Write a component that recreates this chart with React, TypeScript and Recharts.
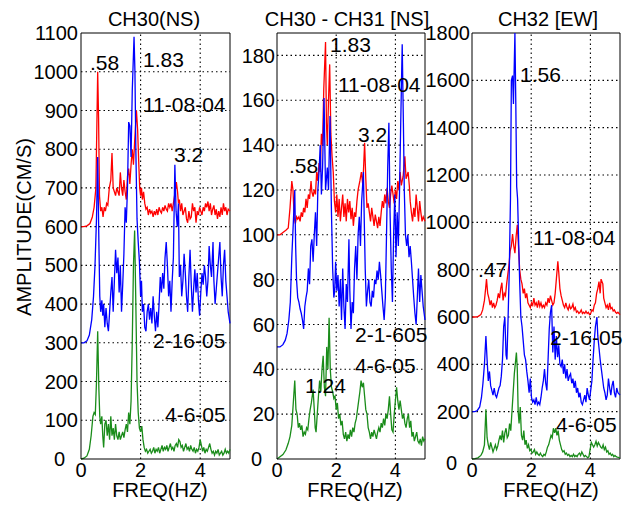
import { LineChart, Line, XAxis, YAxis, ReferenceLine } from 'recharts'

type Pt = [number, number]

// frequency (Hz), amplitude
const ch30Nov04: Pt[] = [
  [0, 600], [0.1, 600], [0.2, 602], [0.3, 608], [0.38, 625], [0.44, 650], [0.5, 700], [0.56, 1000], [0.59, 880],
  [0.62, 680], [0.66, 640], [0.7, 650], [0.74, 625], [0.78, 650], [0.82, 640], [0.86, 660], [0.9, 655], [0.95, 700],
  [1.0, 720], [1.04, 790], [1.08, 700], [1.12, 690], [1.16, 680], [1.2, 700], [1.24, 690], [1.28, 680], [1.32, 740],
  [1.36, 700], [1.4, 680], [1.44, 720], [1.48, 690], [1.52, 670], [1.56, 730], [1.6, 750], [1.64, 710], [1.68, 760],
  [1.72, 800], [1.76, 760], [1.8, 820], [1.86, 900], [1.9, 850], [1.94, 760], [1.97, 700], [2.0, 680], [2.03, 700],
  [2.06, 670], [2.1, 690], [2.14, 660], [2.18, 645], [2.22, 650], [2.26, 630], [2.3, 645], [2.34, 635], [2.38, 640],
  [2.42, 625], [2.46, 640], [2.5, 630], [2.54, 645], [2.58, 630], [2.62, 650], [2.66, 640], [2.7, 635], [2.74, 650],
  [2.78, 640], [2.82, 655], [2.86, 645], [2.9, 640], [2.94, 660], [2.98, 650], [3.02, 660], [3.06, 640], [3.1, 660],
  [3.14, 680], [3.2, 715], [3.24, 690], [3.27, 660], [3.3, 670], [3.34, 640], [3.38, 660], [3.42, 630], [3.46, 640],
  [3.5, 650], [3.54, 620], [3.58, 610], [3.62, 640], [3.66, 620], [3.7, 625], [3.74, 660], [3.78, 640], [3.82, 650],
  [3.86, 610], [3.9, 640], [3.94, 630], [3.98, 650], [4.02, 640], [4.06, 630], [4.1, 650], [4.14, 640], [4.18, 660],
  [4.22, 650], [4.26, 665], [4.3, 640], [4.34, 660], [4.38, 630], [4.42, 645], [4.46, 655], [4.5, 630], [4.54, 645],
  [4.58, 620], [4.62, 640], [4.66, 625], [4.7, 650], [4.74, 630], [4.78, 660], [4.82, 640], [4.86, 650], [4.9, 630],
  [4.94, 645], [5.0, 640],
]

const ch30Feb05: Pt[] = [
  [0, 300], [0.1, 300], [0.2, 305], [0.28, 320], [0.36, 360], [0.42, 420], [0.47, 500], [0.52, 620], [0.56, 780],
  [0.6, 560], [0.63, 420], [0.66, 380], [0.7, 410], [0.73, 370], [0.76, 400], [0.8, 340], [0.84, 390], [0.88, 350],
  [0.92, 330], [0.96, 380], [1.0, 430], [1.04, 470], [1.08, 380], [1.12, 460], [1.16, 540], [1.2, 480], [1.24, 520],
  [1.28, 430], [1.32, 500], [1.36, 380], [1.4, 450], [1.44, 530], [1.48, 650], [1.52, 610], [1.56, 700], [1.6, 870],
  [1.64, 860], [1.68, 780], [1.72, 950], [1.78, 1090], [1.81, 1000], [1.84, 800], [1.88, 620], [1.92, 560],
  [1.96, 510], [2.0, 420], [2.03, 460], [2.06, 380], [2.1, 400], [2.14, 340], [2.18, 330], [2.22, 380], [2.26, 400],
  [2.3, 360], [2.34, 390], [2.38, 350], [2.42, 420], [2.46, 370], [2.5, 330], [2.54, 380], [2.58, 340], [2.62, 400],
  [2.66, 470], [2.7, 430], [2.74, 480], [2.78, 440], [2.82, 520], [2.86, 560], [2.9, 500], [2.94, 420], [2.98, 460],
  [3.02, 380], [3.06, 460], [3.1, 520], [3.15, 760], [3.19, 640], [3.23, 600], [3.27, 660], [3.3, 470], [3.34, 500],
  [3.38, 420], [3.42, 460], [3.46, 530], [3.5, 480], [3.54, 420], [3.58, 380], [3.62, 470], [3.66, 540], [3.7, 450],
  [3.74, 380], [3.78, 440], [3.82, 490], [3.86, 430], [3.9, 480], [3.94, 410], [3.98, 370], [4.02, 430], [4.06, 480],
  [4.1, 450], [4.14, 500], [4.18, 470], [4.22, 420], [4.26, 460], [4.3, 550], [4.34, 500], [4.38, 470], [4.43, 560],
  [4.46, 460], [4.5, 400], [4.54, 440], [4.58, 480], [4.62, 520], [4.66, 560], [4.7, 470], [4.74, 420], [4.78, 500],
  [4.82, 540], [4.86, 460], [4.9, 420], [4.94, 380], [5.0, 350],
]

const ch30Apr05: Pt[] = [
  [0, 0], [0.1, 2], [0.2, 8], [0.28, 25], [0.34, 60], [0.4, 110], [0.44, 120], [0.48, 115], [0.52, 200], [0.56, 330],
  [0.6, 180], [0.63, 110], [0.66, 90], [0.7, 110], [0.73, 60], [0.76, 30], [0.8, 90], [0.84, 100], [0.88, 60],
  [0.92, 90], [0.96, 50], [1.0, 110], [1.04, 60], [1.08, 80], [1.12, 50], [1.16, 90], [1.2, 60], [1.24, 50],
  [1.28, 70], [1.32, 50], [1.36, 60], [1.4, 70], [1.44, 55], [1.48, 75], [1.52, 90], [1.56, 70], [1.6, 120],
  [1.64, 90], [1.68, 150], [1.72, 300], [1.76, 500], [1.8, 590], [1.84, 400], [1.88, 200], [1.92, 120], [1.96, 80],
  [2.0, 70], [2.04, 85], [2.08, 50], [2.12, 30], [2.16, 20], [2.2, 25], [2.24, 15], [2.28, 20], [2.32, 25],
  [2.36, 15], [2.4, 20], [2.44, 30], [2.48, 15], [2.52, 25], [2.56, 20], [2.6, 30], [2.64, 15], [2.68, 25],
  [2.72, 35], [2.76, 20], [2.8, 30], [2.84, 25], [2.88, 35], [2.92, 20], [2.96, 30], [3.0, 40], [3.04, 25],
  [3.08, 30], [3.12, 20], [3.16, 35], [3.2, 40], [3.24, 30], [3.28, 50], [3.32, 45], [3.36, 30], [3.4, 35],
  [3.44, 20], [3.48, 30], [3.52, 40], [3.56, 25], [3.6, 30], [3.64, 20], [3.68, 35], [3.72, 25], [3.76, 20],
  [3.8, 30], [3.84, 15], [3.88, 25], [3.92, 20], [3.96, 30], [4.0, 50], [4.04, 35], [4.08, 20], [4.12, 30],
  [4.16, 15], [4.2, 25], [4.24, 20], [4.28, 30], [4.32, 40], [4.36, 25], [4.4, 15], [4.44, 20], [4.48, 10],
  [4.52, 20], [4.56, 15], [4.6, 25], [4.64, 10], [4.68, 15], [4.72, 20], [4.76, 10], [4.8, 15], [4.84, 25],
  [4.88, 15], [4.92, 20], [4.96, 15], [5.0, 25],
]

const diffNov04: Pt[] = [
  [0, 100], [0.1, 100], [0.2, 101], [0.3, 102], [0.38, 103], [0.44, 112], [0.5, 124], [0.54, 120], [0.58, 108],
  [0.62, 105], [0.66, 108], [0.7, 107], [0.74, 108], [0.78, 106], [0.82, 110], [0.86, 108], [0.9, 112], [0.94, 110],
  [0.98, 116], [1.02, 112], [1.06, 118], [1.1, 116], [1.15, 124], [1.18, 119], [1.22, 117], [1.26, 120], [1.3, 118],
  [1.34, 128], [1.38, 124], [1.42, 132], [1.46, 128], [1.5, 145], [1.54, 140], [1.58, 165], [1.64, 186], [1.67, 150],
  [1.7, 140], [1.74, 160], [1.78, 176], [1.82, 145], [1.86, 135], [1.9, 128], [1.94, 115], [1.98, 110], [2.02, 118],
  [2.06, 108], [2.1, 116], [2.14, 106], [2.18, 112], [2.22, 118], [2.26, 108], [2.3, 114], [2.34, 106], [2.38, 116],
  [2.42, 110], [2.46, 115], [2.5, 107], [2.54, 112], [2.58, 104], [2.62, 110], [2.66, 108], [2.7, 115], [2.74, 120],
  [2.8, 124], [2.85, 128], [2.9, 122], [2.96, 141], [3.0, 125], [3.04, 112], [3.08, 114], [3.12, 110], [3.16, 106],
  [3.2, 112], [3.24, 108], [3.28, 104], [3.32, 109], [3.36, 106], [3.4, 103], [3.44, 108], [3.48, 104], [3.52, 110],
  [3.56, 115], [3.6, 112], [3.64, 118], [3.68, 114], [3.72, 121], [3.76, 115], [3.8, 112], [3.84, 118], [3.88, 122],
  [3.92, 118], [3.96, 114], [4.0, 120], [4.04, 116], [4.08, 124], [4.12, 120], [4.16, 128], [4.2, 122], [4.26, 126],
  [4.32, 135], [4.36, 125], [4.43, 128], [4.47, 122], [4.5, 115], [4.54, 110], [4.58, 106], [4.62, 112], [4.66, 108],
  [4.7, 118], [4.74, 112], [4.78, 106], [4.82, 115], [4.86, 110], [4.9, 106], [4.94, 108], [5.0, 106],
]

const diffFeb05: Pt[] = [
  [0, 50], [0.1, 50], [0.2, 51], [0.28, 53], [0.34, 56], [0.4, 62], [0.45, 70], [0.5, 90], [0.55, 105], [0.6, 120],
  [0.63, 95], [0.66, 80], [0.7, 72], [0.74, 70], [0.78, 67], [0.82, 65], [0.86, 62], [0.9, 58], [0.94, 68],
  [0.98, 72], [1.02, 75], [1.06, 85], [1.1, 78], [1.14, 95], [1.18, 98], [1.22, 88], [1.26, 100], [1.3, 110],
  [1.34, 95], [1.38, 120], [1.42, 128], [1.46, 140], [1.5, 118], [1.54, 130], [1.59, 161], [1.64, 120], [1.7, 130],
  [1.74, 120], [1.79, 153], [1.84, 110], [1.88, 85], [1.92, 72], [1.95, 75], [1.98, 88], [2.02, 75], [2.06, 82],
  [2.1, 68], [2.14, 80], [2.18, 62], [2.22, 85], [2.26, 68], [2.3, 58], [2.34, 78], [2.38, 70], [2.43, 98],
  [2.46, 75], [2.5, 58], [2.54, 70], [2.58, 65], [2.62, 85], [2.66, 95], [2.7, 80], [2.74, 100], [2.78, 108],
  [2.82, 95], [2.86, 115], [2.92, 128], [2.95, 105], [2.98, 85], [3.02, 68], [3.06, 75], [3.1, 80], [3.14, 70],
  [3.18, 68], [3.22, 75], [3.26, 72], [3.3, 80], [3.34, 78], [3.38, 84], [3.42, 80], [3.46, 88], [3.5, 82],
  [3.54, 75], [3.58, 68], [3.62, 62], [3.66, 72], [3.7, 100], [3.74, 130], [3.78, 150], [3.82, 110], [3.86, 85],
  [3.9, 70], [3.94, 100], [3.98, 118], [4.02, 90], [4.06, 110], [4.1, 95], [4.14, 120], [4.18, 150], [4.23, 185],
  [4.27, 150], [4.3, 120], [4.34, 100], [4.38, 95], [4.42, 100], [4.46, 90], [4.5, 95], [4.54, 88], [4.58, 80],
  [4.62, 72], [4.66, 65], [4.7, 60], [4.74, 72], [4.78, 85], [4.82, 70], [4.86, 82], [4.9, 75], [4.94, 68],
  [5.0, 62],
]

const diffApr05: Pt[] = [
  [0, 0], [0.1, 1], [0.2, 2], [0.3, 4], [0.38, 7], [0.44, 10], [0.5, 15], [0.55, 25], [0.6, 35], [0.64, 22],
  [0.68, 20], [0.72, 14], [0.76, 16], [0.8, 13], [0.84, 15], [0.88, 10], [0.92, 12], [0.96, 11], [1.0, 14],
  [1.04, 13], [1.08, 18], [1.12, 22], [1.16, 25], [1.22, 31], [1.26, 22], [1.29, 14], [1.32, 12], [1.36, 20],
  [1.4, 28], [1.44, 35], [1.48, 30], [1.52, 40], [1.56, 46], [1.6, 32], [1.64, 28], [1.68, 50], [1.72, 40],
  [1.76, 63], [1.8, 40], [1.84, 32], [1.88, 30], [1.92, 27], [1.96, 28], [2.0, 22], [2.04, 25], [2.08, 18],
  [2.12, 20], [2.16, 15], [2.2, 17], [2.24, 11], [2.28, 9], [2.32, 12], [2.36, 8], [2.4, 11], [2.44, 9],
  [2.48, 13], [2.52, 10], [2.56, 14], [2.6, 12], [2.64, 16], [2.68, 18], [2.72, 22], [2.76, 26], [2.8, 30],
  [2.84, 35], [2.88, 32], [2.92, 34], [2.96, 28], [3.0, 22], [3.04, 20], [3.08, 14], [3.12, 12], [3.16, 9],
  [3.2, 12], [3.24, 10], [3.28, 13], [3.32, 11], [3.36, 9], [3.4, 12], [3.44, 14], [3.48, 12], [3.52, 16],
  [3.56, 14], [3.6, 18], [3.64, 15], [3.68, 20], [3.72, 18], [3.76, 22], [3.8, 28], [3.84, 20], [3.88, 13],
  [3.92, 12], [3.96, 20], [4.0, 26], [4.04, 32], [4.08, 26], [4.12, 22], [4.16, 26], [4.2, 22], [4.24, 18],
  [4.28, 20], [4.32, 16], [4.36, 14], [4.4, 18], [4.44, 20], [4.48, 14], [4.52, 17], [4.56, 10], [4.6, 12],
  [4.64, 8], [4.68, 10], [4.72, 12], [4.76, 8], [4.8, 7], [4.84, 9], [4.88, 6], [4.92, 10], [4.96, 8], [5.0, 9],
]

const ch32Nov04: Pt[] = [
  [0, 600], [0.1, 600], [0.2, 602], [0.3, 610], [0.36, 630], [0.42, 670], [0.46, 720], [0.49, 760], [0.53, 700],
  [0.57, 680], [0.61, 650], [0.65, 670], [0.69, 640], [0.73, 660], [0.77, 640], [0.81, 650], [0.85, 670],
  [0.89, 700], [0.93, 680], [0.97, 720], [1.01, 745], [1.05, 670], [1.09, 700], [1.13, 690], [1.17, 740],
  [1.21, 780], [1.25, 820], [1.29, 880], [1.33, 900], [1.37, 950], [1.41, 900], [1.45, 870], [1.49, 940],
  [1.53, 990], [1.57, 900], [1.61, 800], [1.65, 760], [1.69, 740], [1.73, 700], [1.77, 720], [1.81, 680],
  [1.85, 700], [1.89, 660], [1.93, 650], [1.97, 640], [2.01, 660], [2.05, 650], [2.09, 680], [2.13, 650],
  [2.17, 660], [2.21, 640], [2.25, 670], [2.29, 645], [2.33, 660], [2.37, 640], [2.41, 650], [2.45, 640],
  [2.49, 660], [2.53, 650], [2.57, 680], [2.61, 660], [2.65, 690], [2.69, 670], [2.73, 650], [2.77, 660],
  [2.81, 700], [2.85, 760], [2.9, 835], [2.93, 790], [2.97, 720], [3.01, 690], [3.05, 670], [3.09, 650],
  [3.13, 640], [3.17, 660], [3.21, 640], [3.25, 630], [3.29, 650], [3.33, 635], [3.37, 640], [3.41, 655],
  [3.45, 630], [3.49, 640], [3.53, 620], [3.57, 625], [3.61, 615], [3.65, 620], [3.69, 630], [3.73, 615],
  [3.77, 620], [3.81, 615], [3.85, 625], [3.89, 615], [3.93, 620], [3.97, 610], [4.01, 615], [4.05, 630],
  [4.09, 625], [4.13, 650], [4.17, 660], [4.21, 700], [4.25, 720], [4.29, 750], [4.33, 700], [4.36, 760],
  [4.42, 740], [4.45, 680], [4.49, 660], [4.53, 640], [4.57, 650], [4.61, 630], [4.65, 660], [4.69, 635],
  [4.73, 640], [4.77, 625], [4.81, 630], [4.85, 620], [4.89, 615], [4.93, 620], [5.0, 610],
]

const ch32Feb05: Pt[] = [
  [0, 200], [0.1, 200], [0.18, 205], [0.26, 220], [0.32, 260], [0.37, 320], [0.42, 400], [0.47, 520], [0.51, 420],
  [0.55, 330], [0.59, 370], [0.63, 310], [0.67, 290], [0.71, 270], [0.75, 300], [0.79, 270], [0.83, 260],
  [0.87, 280], [0.91, 300], [0.95, 310], [0.99, 350], [1.03, 420], [1.07, 560], [1.11, 600], [1.15, 440],
  [1.18, 420], [1.22, 600], [1.26, 800], [1.3, 1100], [1.33, 1600], [1.37, 1620], [1.4, 1500], [1.45, 1800],
  [1.48, 1500], [1.51, 1150], [1.54, 1100], [1.57, 950], [1.61, 750], [1.65, 600], [1.69, 560], [1.73, 500],
  [1.77, 440], [1.81, 420], [1.85, 370], [1.89, 330], [1.93, 280], [1.97, 340], [2.01, 260], [2.05, 240],
  [2.09, 250], [2.13, 230], [2.17, 260], [2.21, 230], [2.25, 240], [2.29, 230], [2.33, 260], [2.37, 300],
  [2.41, 330], [2.45, 380], [2.49, 320], [2.53, 290], [2.57, 420], [2.61, 550], [2.65, 620], [2.69, 650],
  [2.73, 450], [2.77, 560], [2.81, 420], [2.85, 520], [2.89, 430], [2.93, 480], [2.97, 400], [3.01, 390],
  [3.05, 420], [3.09, 360], [3.13, 400], [3.17, 340], [3.21, 380], [3.25, 330], [3.29, 350], [3.33, 360],
  [3.37, 320], [3.41, 340], [3.45, 300], [3.49, 330], [3.53, 280], [3.57, 300], [3.61, 260], [3.65, 280],
  [3.69, 240], [3.73, 230], [3.77, 250], [3.81, 270], [3.85, 240], [3.89, 300], [3.93, 270], [3.97, 250],
  [4.01, 290], [4.05, 330], [4.09, 420], [4.13, 500], [4.17, 560], [4.22, 600], [4.25, 520], [4.29, 470],
  [4.33, 420], [4.37, 380], [4.41, 340], [4.45, 300], [4.49, 280], [4.53, 250], [4.57, 270], [4.61, 340],
  [4.65, 300], [4.69, 270], [4.73, 310], [4.77, 330], [4.81, 280], [4.85, 260], [4.89, 300], [4.93, 280],
  [5.0, 270],
]

const ch32Apr05: Pt[] = [
  [0, 0], [0.1, 2], [0.2, 5], [0.3, 15], [0.36, 30], [0.42, 60], [0.47, 210], [0.51, 90], [0.55, 60], [0.59, 40],
  [0.63, 70], [0.67, 50], [0.71, 30], [0.75, 45], [0.79, 60], [0.83, 40], [0.87, 55], [0.91, 80], [0.95, 100],
  [0.99, 80], [1.03, 120], [1.07, 70], [1.11, 110], [1.15, 130], [1.19, 90], [1.23, 100], [1.27, 150],
  [1.31, 120], [1.35, 200], [1.39, 280], [1.43, 360], [1.5, 450], [1.53, 380], [1.56, 200], [1.59, 150],
  [1.63, 220], [1.67, 100], [1.71, 80], [1.75, 120], [1.79, 60], [1.83, 80], [1.87, 45], [1.91, 60], [1.95, 35],
  [1.99, 40], [2.03, 25], [2.07, 30], [2.11, 40], [2.15, 20], [2.19, 30], [2.23, 20], [2.27, 15], [2.31, 25],
  [2.35, 15], [2.39, 10], [2.43, 20], [2.47, 15], [2.51, 30], [2.55, 50], [2.59, 60], [2.63, 80], [2.67, 100],
  [2.71, 90], [2.75, 130], [2.79, 110], [2.83, 130], [2.87, 100], [2.91, 120], [2.95, 80], [2.99, 60], [3.03, 40],
  [3.07, 30], [3.11, 35], [3.15, 20], [3.19, 25], [3.23, 15], [3.27, 20], [3.31, 10], [3.35, 15], [3.39, 10],
  [3.43, 20], [3.47, 10], [3.51, 15], [3.55, 10], [3.59, 20], [3.63, 25], [3.67, 15], [3.71, 30], [3.75, 20],
  [3.79, 10], [3.83, 15], [3.87, 10], [3.91, 5], [3.95, 10], [3.99, 40], [4.03, 70], [4.07, 60], [4.11, 50],
  [4.15, 60], [4.19, 75], [4.23, 55], [4.27, 70], [4.31, 60], [4.35, 50], [4.39, 45], [4.43, 60], [4.47, 40],
  [4.51, 50], [4.55, 30], [4.59, 35], [4.63, 20], [4.67, 25], [4.71, 15], [4.75, 20], [4.79, 10], [4.83, 15],
  [4.87, 10], [4.91, 8], [5.0, 5],
]

const freqTicks = [0, 2, 4]
const ch30Ticks = [0, 100, 200, 300, 400, 500, 600, 700, 800, 900, 1000, 1100]
const diffTicks = [0, 20, 40, 60, 80, 100, 120, 140, 160, 180]
const ch32Ticks = [0, 200, 400, 600, 800, 1000, 1200, 1400, 1600, 1800]

const RED = '#ff0000'
const BLUE = '#0000ff'
const GREEN = '#1a8c1a'
const FONT = '"Liberation Sans", Arial, Helvetica, sans-serif'

const toRows = (pts: Pt[]) => pts.map(([f, a]) => ({ f, a }))

// y tick label; the zero label sits left of the x-axis "0" like in the original plot
function YTick(props: any) {
  const { x, y, payload, zeroDrop } = props
  const isZero = payload.value === 0
  return (
    <text
      x={isZero ? x - 13 : x}
      y={isZero ? y + zeroDrop : y}
      dy="0.355em"
      textAnchor="end"
      fill="#000"
      fontSize={20}
      fontFamily={FONT}
    >
      {payload.value}
    </text>
  )
}

interface PanelProps {
  left: number
  width: number
  yWidth: number
  yMax: number
  yTicks: number[]
  tickGap: number
  zeroDrop: number
  series: { pts: Pt[]; color: string }[]
}

function Panel({ left, width, yWidth, yMax, yTicks, tickGap, zeroDrop, series }: PanelProps) {
  const tick = { fill: '#000', fontSize: 20, fontFamily: FONT }
  const dotted = { stroke: '#000', strokeDasharray: '1.5 3', strokeWidth: 1.1 }
  return (
    <div style={{ position: 'absolute', left, top: 0 }}>
      <LineChart width={width} height={508} margin={{ top: 33, right: 3, bottom: 19, left: 0 }}>
        <XAxis
          dataKey="f"
          type="number"
          domain={[0, 5]}
          ticks={freqTicks}
          interval={0}
          height={30}
          tickSize={0}
          tickMargin={4}
          tick={tick}
          axisLine={{ stroke: '#000' }}
          tickLine={false}
        />
        <YAxis
          type="number"
          domain={[0, yMax]}
          ticks={yTicks}
          interval={0}
          width={yWidth}
          tickSize={0}
          tickMargin={tickGap}
          tick={<YTick zeroDrop={zeroDrop} />}
          axisLine={{ stroke: '#000' }}
          tickLine={false}
        />
        {yTicks
          .filter((v) => v > 0 && v < yMax)
          .map((v) => (
            <ReferenceLine key={'h' + v} y={v} {...dotted} />
          ))}
        {freqTicks
          .filter((v) => v > 0)
          .map((v) => (
            <ReferenceLine key={'v' + v} x={v} {...dotted} />
          ))}
        <ReferenceLine y={yMax} stroke="#000" />
        <ReferenceLine x={5} stroke="#000" />
        {series.map((s, i) => (
          <Line
            key={i}
            data={toRows(s.pts)}
            dataKey="a"
            type="linear"
            stroke={s.color}
            strokeWidth={1.3}
            dot={false}
            isAnimationActive={false}
          />
        ))}
      </LineChart>
    </div>
  )
}

export default function App() {
  const txt = { fontFamily: FONT, fill: '#000' }
  return (
    <div style={{ position: 'absolute', left: 0, top: 0, width: 623, height: 508, background: '#fff', overflow: 'hidden' }}>
      <Panel
        left={0}
        width={233}
        yWidth={81}
        yMax={1100}
        yTicks={ch30Ticks}
        tickGap={3}
        zeroDrop={0}
        series={[
          { pts: ch30Nov04, color: RED },
          { pts: ch30Feb05, color: BLUE },
          { pts: ch30Apr05, color: GREEN },
        ]}
      />
      <Panel
        left={232}
        width={196}
        yWidth={45}
        yMax={190}
        yTicks={diffTicks}
        tickGap={2}
        zeroDrop={0}
        series={[
          { pts: diffNov04, color: RED },
          { pts: diffFeb05, color: BLUE },
          { pts: diffApr05, color: GREEN },
        ]}
      />
      <Panel
        left={420}
        width={203}
        yWidth={52}
        yMax={1800}
        yTicks={ch32Ticks}
        tickGap={2}
        zeroDrop={4}
        series={[
          { pts: ch32Nov04, color: RED },
          { pts: ch32Feb05, color: BLUE },
          { pts: ch32Apr05, color: GREEN },
        ]}
      />
      <svg width={623} height={508} style={{ position: 'absolute', left: 0, top: 0, pointerEvents: 'none' }}>
        <g {...txt} fontSize={20} textAnchor="middle">
          <text x={154} y={26}>CH30(NS)</text>
          <text x={347} y={26}>CH30 - CH31 [NS]</text>
          <text x={548} y={26}>CH32 [EW]</text>
          <text x={160} y={497}>FREQ(HZ)</text>
          <text x={355} y={497}>FREQ(HZ)</text>
          <text x={551} y={497}>FREQ(HZ)</text>
          <text transform="translate(31 227) rotate(-90)">AMPLITUDE(CM/S)</text>
        </g>
        <g {...txt} fontSize={21}>
          <text x={90} y={70}>.58</text>
          <text x={143} y={67}>1.83</text>
          <text x={143} y={112}>11-08-04</text>
          <text x={174} y={162}>3.2</text>
          <text x={153} y={348}>2-16-05</text>
          <text x={165} y={422}>4-6-05</text>

          <text x={330} y={52}>1.83</text>
          <text x={338} y={92}>11-08-04</text>
          <text x={358} y={142}>3.2</text>
          <text x={289} y={173}>.58</text>
          <text x={355} y={342}>2-1-605</text>
          <text x={355} y={373}>4-6-05</text>
          <text x={305} y={393}>1.24</text>

          <text x={520} y={82}>1.56</text>
          <text x={533} y={245}>11-08-04</text>
          <text x={478} y={277}>.47</text>
          <text x={550} y={345}>2-16-05</text>
          <text x={556} y={432}>4-6-05</text>
        </g>
      </svg>
    </div>
  )
}
